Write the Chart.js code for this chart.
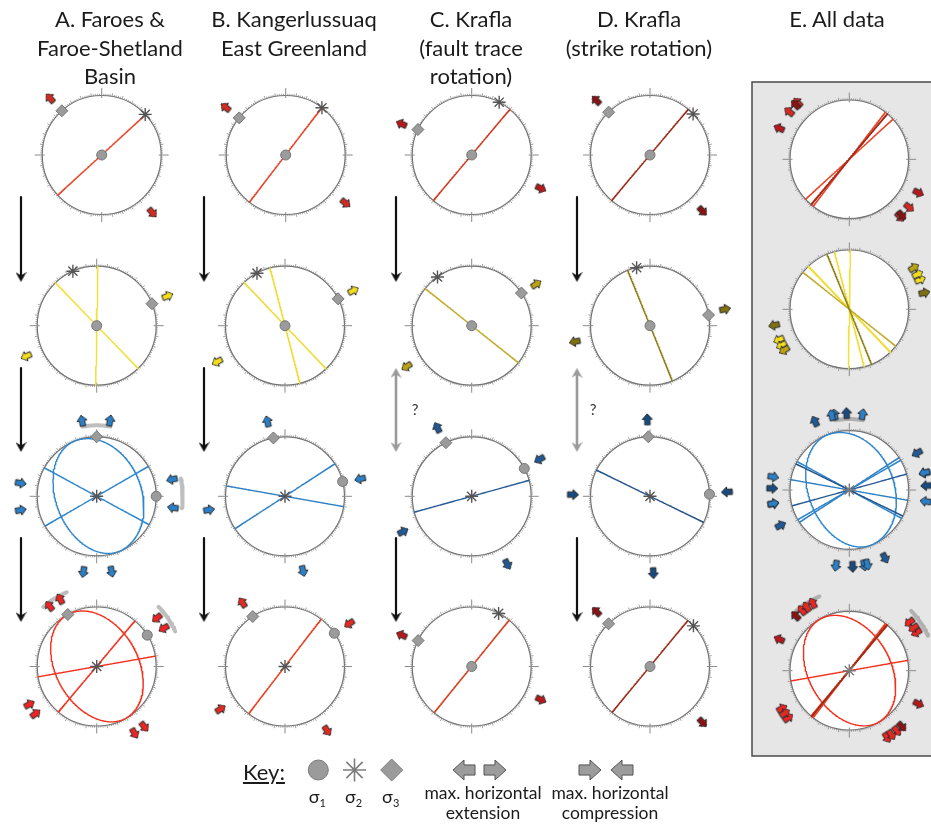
<!DOCTYPE html>
<html>
<head>
<meta charset="utf-8">
<title>Stress field stereonets</title>
<script src="https://cdn.jsdelivr.net/npm/chart.js@4.4.1/dist/chart.umd.min.js"></script>
<style>
  html, body { margin:0; padding:0; background:#fff; }
  #wrap { position:relative; width:931px; height:828px; overflow:hidden; }
  #c { position:absolute; left:0; top:0; }
  .txt { position:absolute; font-family: Lato, "Open Sans", "DejaVu Sans", sans-serif; color:#1b1b1b; white-space:nowrap; }
  .title { font-size:22px; line-height:28.7px; text-align:center; transform:translateX(-50%); top:5px; }
  .key { font-size:22px; line-height:22px; text-decoration:underline; }
  .sig { font-size:18px; line-height:18px; transform:translateX(-50%); }
  .sig sub { font-size:11px; vertical-align:-4px; }
  .klab { font-size:17.5px; line-height:20px; text-align:center; transform:translateX(-50%); }
  .q { font-size:15px; line-height:15px; transform:translateX(-50%); color:#333; }
</style>
</head>
<body>
<div id="wrap">
  <canvas id="c" width="931" height="828"></canvas>
</div>
<script>
// ===================== DATA =====================
const columnTitles = [
  ["A. Faroes &", "Faroe-Shetland", "Basin"],
  ["B. Kangerlussuaq", "East Greenland"],
  ["C. Krafla", "(fault trace", "rotation)"],
  ["D. Krafla", "(strike rotation)"],
  ["E. All data"]
];
// panels in row-major order
const panelIds = ["A1","B1","C1","D1","A2","B2","C2","D2","A3","B3","C3","D3","A4","B4","C4","D4"];

// vertical fault planes (strike, degrees)
const verticalStrikes = [
  [47.5],[37.5],[40],[40],
  [1,316],[345.5,316.5],[308.5],[338],
  [60,298.5],[280,57],[74.5],[296],
  [80,40],[37.5],[39],[39.5]
];
// inclined fault planes (strike / dip, right-hand rule)
const inclinedStrikes = [[],[],[],[], [],[],[],[], [338,158],[],[],[], [330,150],[],[],[]];
const inclinedDips    = [[],[],[],[], [],[],[],[], [41,47],[],[],[],   [46,47],[],[],[]];

// principal stresses: trend / plunge
const sigma1Trend  = [0,0,0,0, 0,0,0,0, 90,75.6,62.1,88, 58.2,56,0,0];
const sigma1Plunge = [90,90,90,90, 90,90,90,90, 0,0,0,0, 0,0,90,90];
const sigma2Trend  = [47,37.5,27.5,46.4, 336.4,331.9,324.9,347, 0,0,0,0, 0,0,26.9,46.9];
const sigma2Plunge = [0,0,0,0, 0,0,0,0, 90,90,90,90, 90,90,0,0];
const sigma3Trend  = [318,308.6,295.3,316, 68.3,63.2,56.7,79.7, 0,348.8,334.3,358.4, 331,327.2,295.8,315.9];
const sigma3Plunge = [0,0,0,0, 0,0,0,0, 0,0,0,0, 0,0,0,0];

// max. horizontal extension (outward arrows) and compression (inward arrows), azimuths
const extensionAz = [
  [317.7,138.7],[308.4,128.8],[293.9,115.8],[315.5,136.9],
  [67.3,246.6],[62.8,242],[57.2,237.9],[77.6,258],
  [349,10,190,168.8],[346.8,166.4],[333.4,152.3],[358,177.5],
  [322,331.5,150.5,141.7],[326.3,146.7],[294.2,115.6],[315.7,136.8]
];
const compressionAz = [
  [],[],[],[],
  [],[],[],[],
  [279.8,259.7,77.4,98.5],[77,259.9],[61.4,242.8],[86.8,271.2],
  [51.2,60.3,240.7,232.4],[56.3,236.6],[],[]
];
// azimuth ranges of stress orientation (grey brackets)
const rangeStartAz = [[],[],[],[], [],[],[],[], [-11,78],[],[],[], [318,46],[],[],[]];
const rangeEndAz   = [[],[],[],[], [],[],[],[], [11,98],[],[],[],   [338,66],[],[],[]];

// ===================== STYLE / LAYOUT =====================
const lineColor = [
  "#e8462b","#e6452a","#cf3c22","#9e2a1a",
  "#f2e03c","#efdb33","#c2ab2a","#8f7f18",
  "#2f86cc","#2f80c4","#2a5c98","#24548c",
  "#f2321f","#e4421f","#d2401f","#9e2a1a"
];
const arrowColor = [
  "#d42a22","#d42a22","#b8181a","#8a1212",
  "#f2dc1e","#f2dc1e","#b9a214","#7f7010",
  "#2b7fc6","#2b7fc6","#1f5a95","#174a80",
  "#ee2424","#e02a22","#b8181a","#8a1212"
];
const rangeSide = [[],[],[],[], [],[],[],[], ["in","out"],[],[],[], ["mid","out"],[],[],[]];
const rangeRadius = {in: 71, mid: 80, out: 86};
const colX = [[101.7,96.7,96.7,96.7],[285.7,285,285,285],[471.7,471.7,471.7,471.7],[650,650,650,650]];
const rowY = [155,325.7,496.3,666.5];
const R = 59.5;
const EX = 849.3, EY = [159.3,309.3,490,670.7], RE = 59.3;
const ARROW_RING = 77;
const ePanel = {x0:752, y0:82, x1:945, y1:756};
const flowX = [21, 204, 396, 577];
const flowSpans = [[197,282],[368,452],[538,622]];
const titleX = [110, 294, 471, 639, 837];
const keySymX = [318.3, 354.5, 391.7], keyY = 770;
const keyExtX = [464, 495], keyCompX = [590, 622];

// ===================== HELPERS =====================
const DEG = Math.PI / 180;
// lower-hemisphere orthographic projection of a line (trend/plunge)
function proj(cx, cy, rad, trend, plunge) {
  const r = rad * Math.cos(plunge * DEG);
  return {x: cx + r * Math.sin(trend * DEG), y: cy - r * Math.cos(trend * DEG)};
}
function planePts(cx, cy, rad, strike, dip) {
  const pts = [];
  const s = strike * DEG, d = dip * DEG, dd = (strike + 90) * DEG;
  for (let t = 0; t <= 180; t += 1) {
    const tr = t * DEG;
    const n = Math.cos(tr) * Math.cos(s) + Math.sin(tr) * Math.cos(d) * Math.cos(dd);
    const e = Math.cos(tr) * Math.sin(s) + Math.sin(tr) * Math.cos(d) * Math.sin(dd);
    const dn = Math.min(1, Math.max(0, Math.sin(tr) * Math.sin(d)));
    const plunge = Math.asin(dn) / DEG;
    const trend = Math.atan2(e, n) / DEG;
    pts.push(proj(cx, cy, rad, trend, plunge));
  }
  return pts;
}
function ringPt(cx, cy, dist, az) {
  return {x: cx + dist * Math.sin(az * DEG), y: cy - dist * Math.cos(az * DEG)};
}
function arcPts(cx, cy, dist, a1, a2) {
  const pts = [];
  for (let a = a1; a <= a2 + 0.001; a += 1) pts.push(ringPt(cx, cy, dist, a));
  return pts;
}
function arrowImage(fill, stroke, w, h) {
  const c = document.createElement('canvas');
  c.width = w; c.height = h;
  const g = c.getContext('2d');
  const m = 1, hh = h * 0.5;
  g.beginPath();
  g.moveTo(w / 2, m);
  g.lineTo(w - m, hh);
  g.lineTo(w * 0.73, hh);
  g.lineTo(w * 0.73, h - m);
  g.lineTo(w * 0.27, h - m);
  g.lineTo(w * 0.27, hh);
  g.lineTo(m, hh);
  g.closePath();
  g.fillStyle = fill; g.fill();
  g.lineWidth = 1; g.strokeStyle = stroke; g.lineJoin = 'miter'; g.stroke();
  return c;
}
function headImage(color) {
  const c = document.createElement('canvas');
  c.width = 11; c.height = 11;
  const g = c.getContext('2d');
  g.beginPath();
  g.moveTo(5.5, 11); g.lineTo(0, 1); g.lineTo(5.5, 4.5); g.lineTo(11, 1); g.closePath();
  g.fillStyle = color; g.fill();
  return c;
}

// ===================== DATASETS =====================
const datasets = [];
const arrowImgs = arrowColor.map(c => arrowImage(c, '#2a2a2a', 12, 13));

function addNet(p, cx, cy, rad, showSymbols) {
  // grey range brackets
  rangeStartAz[p].forEach((a1, i) => {
    const dist = rangeRadius[rangeSide[p][i]];
    datasets.push({data: arcPts(cx, cy, dist, a1, rangeEndAz[p][i]), showLine: true, pointRadius: 0,
      borderColor: 'rgba(110,110,110,0.45)', borderWidth: 4, borderCapStyle: 'round', order: 70});
  });
  // fault planes
  verticalStrikes[p].forEach(s => {
    datasets.push({data: planePts(cx, cy, rad, s, 90), showLine: true, pointRadius: 0,
      borderColor: lineColor[p], borderWidth: 1.4, order: 50 - p * 0.01});
  });
  inclinedStrikes[p].forEach((s, i) => {
    datasets.push({data: planePts(cx, cy, rad, s, inclinedDips[p][i]), showLine: true, pointRadius: 0,
      borderColor: lineColor[p], borderWidth: 1.4, order: 50 - p * 0.01});
  });
  // arrows
  const pts = [], rots = [];
  extensionAz[p].forEach(a => { pts.push(ringPt(cx, cy, ARROW_RING, a)); rots.push(a); });
  compressionAz[p].forEach(a => { pts.push(ringPt(cx, cy, ARROW_RING, a)); rots.push(a + 180); });
  datasets.push({data: pts, pointStyle: arrowImgs[p], pointRotation: rots, pointRadius: 6, order: 10 - p * 0.01});
  if (!showSymbols) return;
  const sym = (trend, plunge, style, r, bg, bc, bw) => datasets.push({
    data: [proj(cx, cy, rad, trend, plunge)], pointStyle: style, pointRadius: r,
    backgroundColor: bg, borderColor: bc, borderWidth: bw, order: 20});
  sym(sigma1Trend[p], sigma1Plunge[p], 'circle', 5, '#9b9b9b', '#767676', 1);
  sym(sigma2Trend[p], sigma2Plunge[p], 'star', 6.5, '#555', '#555', 1.4);
  sym(sigma3Trend[p], sigma3Plunge[p], 'rectRot', 6, '#9b9b9b', '#767676', 1);
}

const netCenters = [];
panelIds.forEach((id, p) => {
  const row = Math.floor(p / 4), col = p % 4;
  const cx = colX[col][row], cy = rowY[row];
  netCenters.push({x: cx, y: cy, r: R, e: false});
  addNet(p, cx, cy, R, true);
});
panelIds.forEach((id, p) => {
  const row = Math.floor(p / 4);
  addNet(p, EX, EY[row], RE, false);
});
EY.forEach(y => netCenters.push({x: EX, y: y, r: RE, e: true}));
// sigma2 vertical in all panels of rows 3-4 -> centre star in "All data"
[2, 3].forEach(row => datasets.push({data: [{x: EX, y: EY[row]}], pointStyle: 'star', pointRadius: 6.5,
  borderColor: '#7a7a7a', borderWidth: 1.4, order: 20}));

// flow arrows between rows
const blackHead = headImage('#111'), greyHead = headImage('#9a9a9a');
flowX.forEach((x, col) => {
  flowSpans.forEach((sp, k) => {
    const grey = (col >= 2 && k === 1);
    const top = grey ? sp[0] + 4 : sp[0], bottom = sp[1] - 6;
    datasets.push({data: [{x: x, y: top}, {x: x, y: bottom}], showLine: true, pointRadius: 0,
      borderColor: grey ? '#9a9a9a' : '#111', borderWidth: grey ? 2.6 : 2.2, order: 30});
    datasets.push({data: [{x: x, y: sp[1] - 5.5}], pointStyle: grey ? greyHead : blackHead, pointRotation: 0, pointRadius: 5, order: 29});
    if (grey) datasets.push({data: [{x: x, y: sp[0] + 5.5}], pointStyle: greyHead, pointRotation: 180, pointRadius: 5, order: 29});
  });
});

// key symbols
datasets.push({data: [{x: keySymX[0], y: keyY}], pointStyle: 'circle', pointRadius: 10, backgroundColor: '#9b9b9b', borderColor: '#7a7a7a', borderWidth: 1, order: 5});
datasets.push({data: [{x: keySymX[1], y: keyY}], pointStyle: 'star', pointRadius: 11.5, borderColor: '#7d7d7d', borderWidth: 1.6, order: 5});
datasets.push({data: [{x: keySymX[2], y: keyY}], pointStyle: 'rectRot', pointRadius: 11, backgroundColor: '#9b9b9b', borderColor: '#7a7a7a', borderWidth: 1, order: 5});
const keyArrow = arrowImage('#9c9c9c', '#555', 22, 24);
datasets.push({data: [{x: keyExtX[0], y: keyY}, {x: keyExtX[1], y: keyY}], pointStyle: keyArrow, pointRotation: [270, 90], pointRadius: 8, order: 5});
datasets.push({data: [{x: keyCompX[0], y: keyY}, {x: keyCompX[1], y: keyY}], pointStyle: keyArrow, pointRotation: [90, 270], pointRadius: 8, order: 5});

// ===================== FRAME PLUGIN (net outlines & ticks) =====================
const netFrame = {
  id: 'netFrame',
  beforeDatasetsDraw(chart) {
    const ctx = chart.ctx, xs = chart.scales.x, ys = chart.scales.y;
    const px = v => xs.getPixelForValue(v), py = v => ys.getPixelForValue(v);
    ctx.save();
    // "All data" panel
    ctx.fillStyle = '#e6e6e6';
    ctx.fillRect(px(ePanel.x0), py(ePanel.y0), px(ePanel.x1) - px(ePanel.x0), py(ePanel.y1) - py(ePanel.y0));
    ctx.strokeStyle = '#4a4a4a'; ctx.lineWidth = 1.5;
    ctx.strokeRect(px(ePanel.x0), py(ePanel.y0), px(ePanel.x1) - px(ePanel.x0), py(ePanel.y1) - py(ePanel.y0));
    netCenters.forEach(n => {
      const cx = px(n.x), cy = py(n.y), r = n.r;
      ctx.beginPath(); ctx.arc(cx, cy, r, 0, Math.PI * 2);
      ctx.fillStyle = '#fff'; ctx.fill();
      ctx.strokeStyle = '#6f6f6f'; ctx.lineWidth = 1.2; ctx.stroke();
      ctx.strokeStyle = '#8a8a8a'; ctx.lineWidth = 0.8;
      for (let a = 0; a < 360; a += 2) {
        let out = 1.8, inn = 0;
        if (a % 10 === 0) out = 3.2;
        if (a % 90 === 0) { out = 7.5; inn = 2.5; ctx.lineWidth = 1; }
        const s = Math.sin(a * DEG), c = Math.cos(a * DEG);
        ctx.beginPath();
        ctx.moveTo(cx + (r - inn) * s, cy - (r - inn) * c);
        ctx.lineTo(cx + (r + out) * s, cy - (r + out) * c);
        ctx.stroke();
        ctx.lineWidth = 0.8;
      }
    });
    ctx.restore();
  }
};

new Chart(document.getElementById('c'), {
  type: 'scatter',
  data: {datasets: datasets},
  options: {
    responsive: false, animation: false, devicePixelRatio: 1, events: [],
    layout: {padding: 0, autoPadding: false},
    elements: {line: {tension: 0, borderJoinStyle: 'round'}},
    plugins: {legend: {display: false}, tooltip: {enabled: false}},
    scales: {
      x: {type: 'linear', min: 0, max: 931, display: false},
      y: {type: 'linear', min: 0, max: 828, reverse: true, display: false}
    }
  },
  plugins: [netFrame]
});

// ===================== TEXT =====================
const wrap = document.getElementById('wrap');
function addText(cls, html, left, top) {
  const d = document.createElement('div');
  d.className = 'txt ' + cls; d.innerHTML = html;
  d.style.left = left + 'px'; d.style.top = top + 'px';
  wrap.appendChild(d);
}
columnTitles.forEach((lines, i) => addText('title', lines.join('<br>'), titleX[i], 5));
addText('q', '?', 415, 402);
addText('q', '?', 593, 402);
addText('key', 'Key:', 243, 761);
['1','2','3'].forEach((s, i) => addText('sig', 'σ<sub>' + s + '</sub>', keySymX[i] - 1, 787));
addText('klab', 'max. horizontal<br>extension', 483, 783);
addText('klab', 'max. horizontal<br>compression', 610, 783);
</script>
</body>
</html>
